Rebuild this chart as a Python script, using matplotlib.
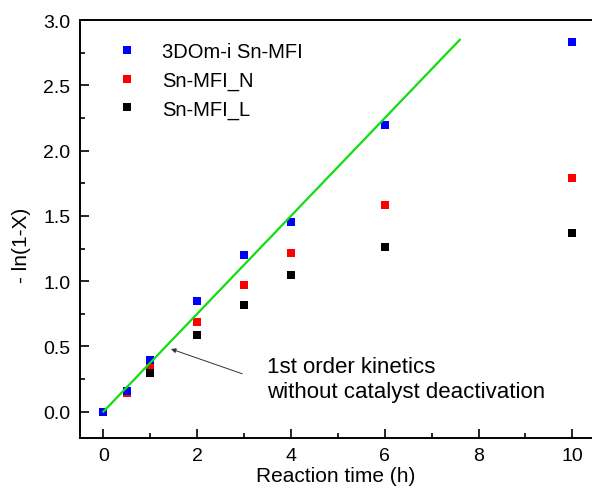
import numpy as np
import matplotlib
matplotlib.use("Agg")
import matplotlib.pyplot as plt
from matplotlib.ticker import MultipleLocator

plt.rcParams['font.family'] = ['Liberation Sans', 'DejaVu Sans']

# ---------------------- data ----------------------
time_h = [0, 0.5, 1, 2, 3, 4, 6, 10]
sn_mfi_3dom = [0.0, 0.16, 0.395, 0.85, 1.20, 1.455, 2.20, 2.83]
sn_mfi_n = [0.0, 0.145, 0.36, 0.69, 0.967, 1.218, 1.58, 1.79]
sn_mfi_l = [0.0, 0.15, 0.295, 0.59, 0.818, 1.05, 1.26, 1.37]

# 1st order fit (no deactivation)
fit_x = [0, 7.6]
fit_y = [0, 2.85]

fig = plt.figure(figsize=(5.92, 4.89), dpi=100)
ax = fig.add_axes([80 / 592, 50.3 / 489, 512 / 592, 417.5 / 489])

ms = 6.3
h_l, = ax.plot(time_h, sn_mfi_l, 's', color='black', ms=ms, mew=0, label='Sn-MFI_L', zorder=3)
h_n, = ax.plot(time_h, sn_mfi_n, 's', color='#ff0000', ms=ms, mew=0, label='Sn-MFI_N', zorder=4)
h_b, = ax.plot(time_h, sn_mfi_3dom, 's', color='#0000ff', ms=ms, mew=0, label='3DOm-i Sn-MFI', zorder=5)
ax.plot(fit_x, fit_y, '-', color='#11dd11', lw=1.6, zorder=6)

ax.annotate('', xy=(1.44, 0.48), xytext=(2.96, 0.29),
            arrowprops=dict(arrowstyle='-|>', color='#333333', lw=0.7,
                            mutation_scale=7, shrinkA=0, shrinkB=0))
ax.text(3.48, 0.25, '1st order kinetics\nwithout catalyst deactivation',
        fontsize=16, ha='left', va='center', linespacing=1.3)

ax.set_xlim(-0.5, 10.42)
ax.set_ylim(-0.2, 3.0)
ax.xaxis.set_major_locator(MultipleLocator(2))
ax.xaxis.set_minor_locator(MultipleLocator(1))
ax.yaxis.set_major_locator(MultipleLocator(0.5))
ax.yaxis.set_minor_locator(MultipleLocator(0.25))
ax.xaxis.set_major_formatter(plt.FuncFormatter(lambda v, p: f"{v:.0f}"))
ax.yaxis.set_major_formatter(plt.FuncFormatter(lambda v, p: f"{v:.1f}"))

ax.tick_params(which='both', direction='in', width=1.2, labelsize=14, top=False, right=False)
ax.tick_params(which='major', length=6.5, pad=7)
ax.tick_params(which='minor', length=3.5)
ax.spines['right'].set_visible(False)
for s in ['left', 'bottom', 'top']:
    ax.spines[s].set_linewidth(1.4)

ax.set_xlabel('Reaction time (h)', fontsize=15, labelpad=1)
ax.set_ylabel('- ln(1-X)', fontsize=15)
ax.yaxis.set_label_coords(-0.095, 0.464)

ax.legend(handles=[h_b, h_n, h_l], loc='upper left', bbox_to_anchor=(0.073, 0.948),
          frameon=False, fontsize=14.5, handlelength=1.0, handletextpad=1.22,
          labelspacing=0.48, borderpad=0, borderaxespad=0, markerscale=0.9)

fig.savefig('out.png', dpi=100)
